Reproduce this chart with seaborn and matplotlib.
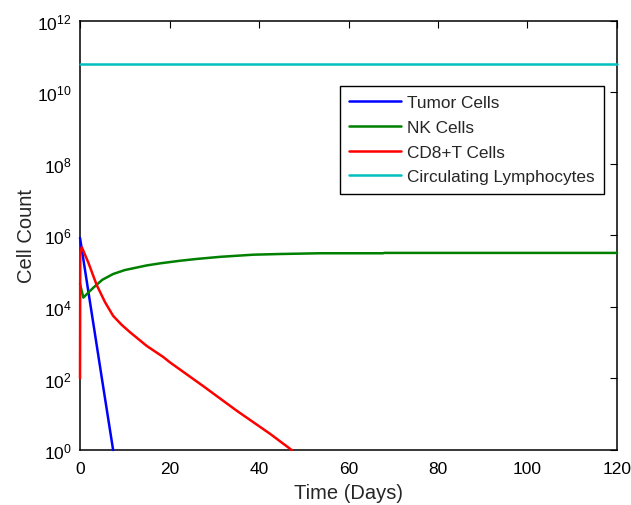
import numpy as np
import pandas as pd
import matplotlib
matplotlib.use("Agg")
import matplotlib.pyplot as plt
import seaborn as sns

# values (time in days, log10 of cell count)
tumor_t = [0, 0.4, 2.0, 4.85, 7.4]
tumor_log = [5.93, 5.61, 4.32, 2.03, 0.0]

nk_t = [0, 0.75, 2.0, 3.0, 5.0, 7.4, 10.0, 14.9, 18.0, 22.3, 26.0, 31.3,
        38.7, 45.0, 53.6, 67.7, 68.0, 120]
nk_log = [4.64, 4.26, 4.42, 4.54, 4.76, 4.92, 5.03, 5.16, 5.22, 5.29, 5.34, 5.40,
          5.46, 5.48, 5.50, 5.50, 5.51, 5.51]

cd8_t = [0, 0.05, 0.4, 1.86, 3.7, 5.6, 7.4, 9.3, 11.2, 14.9, 18.6, 20.1,
         27.6, 35.0, 42.5, 47.3]
cd8_log = [2.0, 5.5, 5.67, 5.24, 4.62, 4.13, 3.75, 3.50, 3.29, 2.91, 2.60, 2.45,
           1.78, 1.10, 0.45, 0.0]

lymph_t = [0, 120]
lymph_log = [10.8, 10.8]

labels = ["Tumor Cells", "NK Cells", "CD8+T Cells", "Circulating Lymphocytes"]
colors = ["#0000ff", "#008000", "#ff0000", "#00bfbf"]

frames = []
for name, t, lg in zip(labels, [tumor_t, nk_t, cd8_t, lymph_t],
                       [tumor_log, nk_log, cd8_log, lymph_log]):
    frames.append(pd.DataFrame({"t": t, "count": 10 ** np.array(lg), "series": name}))
df = pd.concat(frames, ignore_index=True)

sns.set_theme(style="white")
plt.rcParams['font.family'] = ['Liberation Sans', 'DejaVu Sans']
plt.rcParams['mathtext.fontset'] = 'custom'
plt.rcParams['mathtext.rm'] = 'Liberation Sans'
plt.rcParams['mathtext.it'] = 'Liberation Sans'

fig = plt.figure(figsize=(6.31, 5.06), dpi=100)
ax = fig.add_axes([0.1268, 0.1087, 0.851, 0.8483])

sns.lineplot(data=df, x="t", y="count", hue="series", hue_order=labels,
             palette=colors, estimator=None, sort=False, linewidth=1.8, ax=ax)
# lines sit on top of the axes box, like the original
for ln in ax.get_lines():
    ln.set_zorder(3)
    ln.set_clip_on(False)

ax.set_yscale("log")
ax.set_xlim(0, 120)
ax.set_ylim(1, 1e12)
ax.set_xticks([0, 20, 40, 60, 80, 100, 120])
ax.set_yticks([10.0 ** k for k in range(0, 13, 2)])
ax.set_yticklabels([r"$10^{%d}$" % k for k in range(0, 13, 2)])
ax.minorticks_off()
ax.tick_params(direction="in", length=5, width=0.8, top=True, right=True,
               labelsize=12.5, colors="black")
ax.tick_params(axis="x", pad=8)
ax.tick_params(axis="y", pad=6)
for s in ax.spines.values():
    s.set_color("black")
    s.set_linewidth(1.1)
    s.set_zorder(2.5)

ax.set_xlabel("Time (Days)", fontsize=14.5, labelpad=5)
ax.set_ylabel("Cell Count", fontsize=14.5, labelpad=1)

ax.legend(loc="upper left", bbox_to_anchor=(0.484, 0.8486), borderaxespad=0,
          fontsize=12.4, frameon=True, fancybox=False, framealpha=1,
          edgecolor="black", handlelength=3.0, handletextpad=0.35,
          labelspacing=0.56, borderpad=0.55)
ax.get_legend().get_frame().set_linewidth(1.0)
for ln in ax.get_legend().get_lines():
    ln.set_linewidth(1.8)

fig.savefig("out.png", dpi=100)
